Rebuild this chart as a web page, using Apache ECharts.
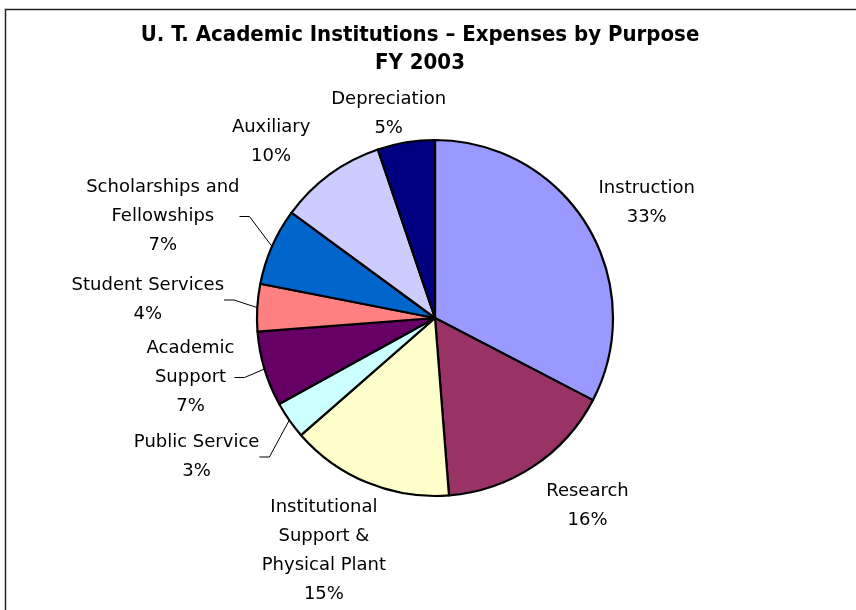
<!DOCTYPE html>
<html>
<head>
<meta charset="utf-8">
<script src="https://cdn.jsdelivr.net/npm/echarts@6/dist/echarts.min.js"></script>
<style>
  html, body { margin: 0; padding: 0; background: #ffffff; }
  #chart { width: 856px; height: 610px; }
</style>
</head>
<body>
<div id="chart"></div>
<script>
// expenses by purpose, FY 2003 (percent of total)
const categories = [
  "Instruction",
  "Research",
  "Institutional\nSupport &\nPhysical Plant",
  "Public Service",
  "Academic\nSupport",
  "Student Services",
  "Scholarships and\nFellowships",
  "Auxiliary",
  "Depreciation"
];
const values = [32.6, 16.1, 14.8, 3.4, 6.8, 4.3, 7.0, 9.7, 5.2];
const colors = ["#9999FF", "#993366", "#FFFFCC", "#CCFFFF", "#660066", "#FF8080", "#0066CC", "#CCCCFF", "#000080"];
const hasLeader = [false, false, false, true, true, true, true, false, false];
// nudges from the default outside label spot, [dx, dy]
const labelShift = [[-19, -13], [-12, 24], [40, 0], [-4, -5], [-2, -10], [-5, -13], [-3, -22], [24, -22], [58, 10]];

const chart = echarts.init(document.getElementById("chart"));

const pieData = categories.map((name, i) => ({
  name: name,
  value: values[i],
  itemStyle: { color: colors[i] },
  labelLine: { show: hasLeader[i] }
}));

chart.setOption({
  backgroundColor: "#ffffff",
  animation: false,
  title: {
    text: "U. T. Academic Institutions \u2013 Expenses by Purpose\nFY 2003",
    left: 420,
    top: 21,
    textAlign: "center",
    padding: 0,
    textStyle: {
      fontFamily: "DejaVu Sans Condensed, DejaVu Sans",
      fontWeight: "bold",
      fontSize: 22,
      lineHeight: 28,
      color: "#000000"
    }
  },
  graphic: [{
    type: "rect",
    shape: { x: 5.5, y: 9.5, width: 900, height: 700 },
    style: { fill: "none", stroke: "#222222", lineWidth: 1.5 },
    silent: true
  }],
  series: [{
    type: "pie",
    center: [435, 318],
    radius: 178,
    startAngle: 90,
    clockwise: true,
    data: pieData,
    itemStyle: { borderColor: "#000000", borderWidth: 2.2 },
    label: {
      position: "outside",
      color: "#000000",
      fontFamily: "DejaVu Sans",
      fontSize: 18,
      lineHeight: 29,
      formatter: p => p.name + "\n" + Math.round(p.percent) + "%"
    },
    labelLine: {
      length: 18,
      length2: 10,
      lineStyle: { color: "#000000", width: 1 }
    },
    labelLayout: params => {
      const s = labelShift[params.dataIndex];
      return {
        x: params.labelRect.x + params.labelRect.width / 2 + s[0],
        y: params.labelRect.y + params.labelRect.height / 2 + s[1],
        align: "center",
        verticalAlign: "middle"
      };
    }
  }]
});
</script>
</body>
</html>
